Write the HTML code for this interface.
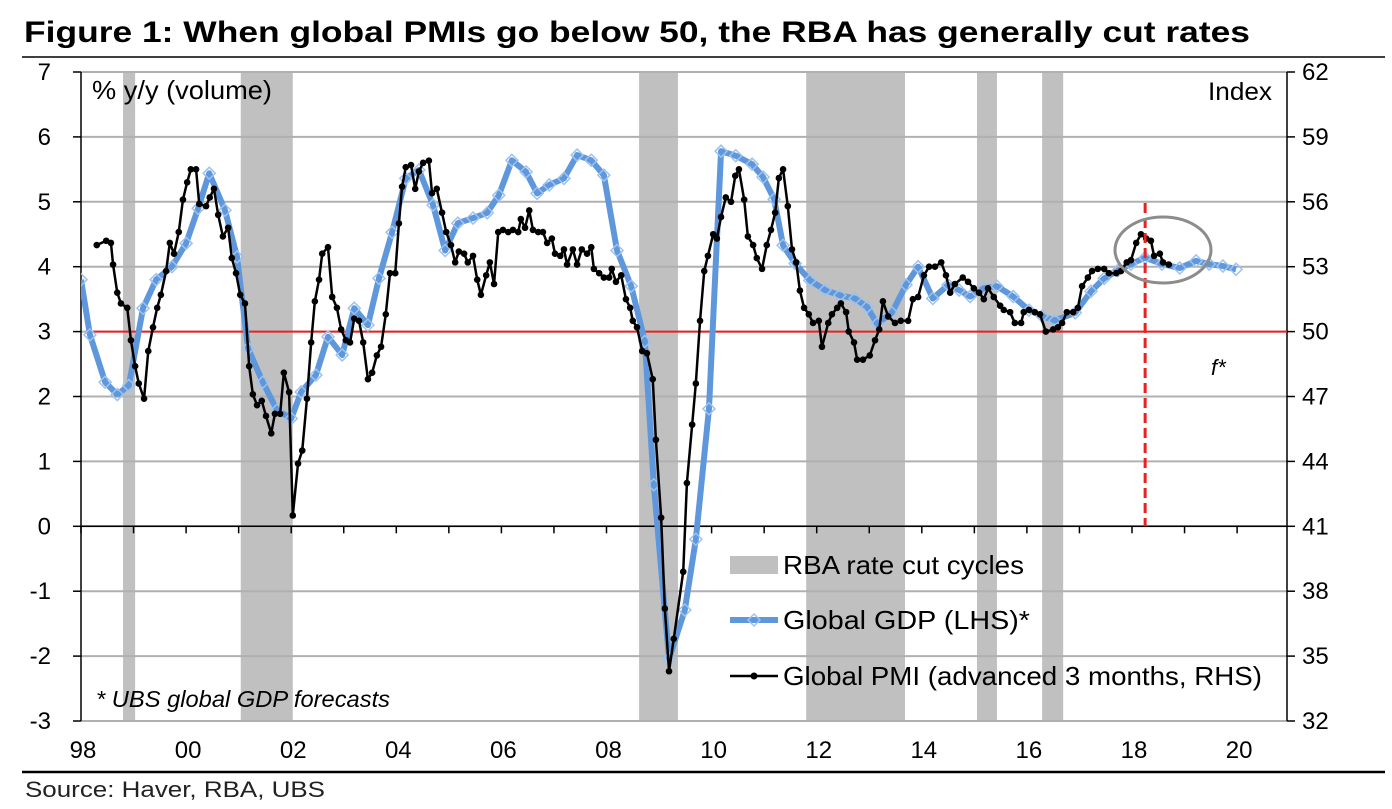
<!DOCTYPE html>
<html><head><meta charset="utf-8"><style>
html,body{margin:0;padding:0;background:#fff;}
svg{display:block;font-family:"Liberation Sans",Arial,sans-serif;}
</style></head><body>
<svg id="chart" width="1392" height="809" viewBox="0 0 1392 809">
<text x="24" y="42" font-size="30" font-weight="bold" textLength="1226" lengthAdjust="spacingAndGlyphs">Figure 1: When global PMIs go below 50, the RBA has generally cut rates</text>
<line x1="22" y1="57" x2="1385" y2="57" stroke="#000" stroke-width="1.5"/>
<g id="bands"></g>
<g id="grid"></g>
<g id="axes"></g>
<defs><clipPath id="plotclip"><rect x="81" y="60" width="1206" height="680"/></clipPath></defs>
<g id="series" clip-path="url(#plotclip)"></g>
<text x="92" y="99" font-size="26" textLength="180" lengthAdjust="spacingAndGlyphs">% y/y (volume)</text>
<text x="1208" y="100" font-size="25" textLength="64" lengthAdjust="spacingAndGlyphs">Index</text>
<text x="1211" y="375" font-size="22" font-style="italic">f*</text>
<text x="96" y="707" font-size="23" font-style="italic" textLength="294" lengthAdjust="spacingAndGlyphs">* UBS global GDP forecasts</text>
<ellipse cx="1163" cy="250" rx="48" ry="33" fill="none" stroke="#8c8c8c" stroke-width="3"/>
<g>
  <rect x="730" y="556" width="48" height="18" fill="#c0c0c0"/>
  <text x="783" y="574" font-size="26" textLength="241" lengthAdjust="spacingAndGlyphs">RBA rate cut cycles</text>
  <line x1="730" y1="620" x2="778" y2="620" stroke="#5f97dc" stroke-width="6"/>
  <path d="M754 614 L760 620 L754 626 L748 620 Z" fill="none" stroke="#9cc2ee" stroke-width="1.5"/>
  <text x="783" y="629" font-size="26" textLength="247" lengthAdjust="spacingAndGlyphs">Global GDP (LHS)*</text>
  <line x1="730" y1="676" x2="778" y2="676" stroke="#000" stroke-width="2.5"/>
  <circle cx="754" cy="676" r="3.5" fill="#000"/>
  <text x="783" y="685" font-size="26" textLength="479" lengthAdjust="spacingAndGlyphs">Global PMI (advanced 3 months, RHS)</text>
</g>
<line x1="22" y1="772" x2="1385" y2="772" stroke="#000" stroke-width="2.5"/>
<text x="25" y="797" font-size="22" fill="#222" textLength="300" lengthAdjust="spacingAndGlyphs">Source:  Haver, RBA, UBS</text>
</svg>
<script>
// x data: years since Jan 1998
const xTickLabels = ["98","00","02","04","06","08","10","12","14","16","18","20"];
const lhsTicks = [7,6,5,4,3,2,1,0,-1,-2,-3];
const rhsTicks = [62,59,56,53,50,47,44,41,38,35,32];
const bandStart = [0.80,3.04,10.62,13.80,17.05,18.29];
const bandEnd   = [1.03,4.03,11.36,15.68,17.43,18.69];
const gdpYears = [0.0,0.17,0.46,0.69,0.91,1.18,1.43,1.73,2.0,2.23,2.44,2.74,2.97,3.18,3.46,3.73,4.0,4.19,4.47,4.7,4.97,5.2,5.46,5.67,5.92,6.18,6.43,6.7,6.93,7.17,7.46,7.73,7.95,8.2,8.47,8.68,8.91,9.19,9.44,9.71,9.95,10.2,10.47,10.73,10.9,11.19,11.49,11.7,11.95,12.18,12.46,12.77,12.98,13.19,13.36,13.59,13.87,14.16,14.44,14.73,14.96,15.15,15.43,15.7,15.93,16.21,16.5,16.71,16.92,17.18,17.43,17.74,18.04,18.29,18.53,18.92,19.22,19.47,19.73,19.98,20.25,20.57,20.91,21.22,21.47,21.73,21.98];
const gdpValues = [3.8,2.95,2.22,2.03,2.17,3.36,3.8,4.0,4.36,4.9,5.44,4.87,4.15,2.74,2.22,1.79,1.66,2.07,2.33,2.92,2.64,3.36,3.1,3.82,4.53,5.36,5.49,4.95,4.25,4.67,4.75,4.83,5.1,5.64,5.46,5.13,5.26,5.36,5.72,5.64,5.41,4.25,3.7,2.85,0.64,-2.04,-1.29,-0.2,1.81,5.78,5.71,5.58,5.38,5.04,4.33,4.05,3.79,3.64,3.56,3.51,3.38,3.12,3.29,3.72,4.0,3.51,3.72,3.64,3.54,3.67,3.7,3.54,3.33,3.24,3.17,3.29,3.62,3.82,3.94,4.04,4.14,4.04,3.98,4.09,4.04,4.01,3.96];
const pmiYears = [0.30,0.48,0.57,0.61,0.69,0.76,0.88,0.95,1.03,1.10,
1.20,1.28,1.37,1.45,1.52,1.62,1.69,1.77,1.86,1.94,
2.02,2.09,2.19,2.25,2.38,2.45,2.53,2.61,2.70,2.80,
2.87,2.95,3.03,3.12,3.20,3.27,3.35,3.44,3.52,3.62,
3.69,3.79,3.86,3.96,4.03,4.13,4.21,4.30,4.38,4.45,
4.53,4.59,4.70,4.78,4.87,4.95,5.04,5.12,5.20,5.29,
5.37,5.46,5.54,5.63,5.71,5.80,5.88,5.98,6.05,6.11,
6.18,6.28,6.36,6.43,6.51,6.62,6.68,6.77,6.87,6.95,
7.04,7.12,7.19,7.29,7.36,7.46,7.54,7.61,7.71,7.78,
7.86,7.94,8.03,8.13,8.22,8.32,8.37,8.45,8.53,8.60,
8.70,8.79,8.87,8.96,9.02,9.12,9.19,9.25,9.36,9.44,
9.53,9.63,9.71,9.76,9.86,9.95,10.05,10.10,10.18,10.28,
10.37,10.45,10.50,10.58,10.68,10.77,10.88,10.94,11.04,11.11,
11.19,11.28,11.46,11.53,11.63,11.70,11.78,11.86,11.93,12.03,
12.10,12.18,12.27,12.37,12.45,12.52,12.62,12.69,12.79,12.86,
12.96,13.05,13.13,13.21,13.28,13.36,13.45,13.53,13.61,13.68,
13.76,13.85,13.93,14.04,14.10,14.22,14.29,14.39,14.46,14.56,
14.61,14.71,14.77,14.88,15.01,15.11,15.19,15.26,15.36,15.49,
15.60,15.74,15.83,15.93,16.04,16.14,16.25,16.37,16.46,16.54,
16.63,16.78,16.88,16.99,17.09,17.18,17.26,17.37,17.49,17.56,
17.68,17.77,17.89,17.94,18.04,18.15,18.25,18.36,18.50,18.59,
18.67,18.76,18.88,18.97,19.05,19.16,19.24,19.35,19.47,19.56,
19.70,19.79,19.90,19.98,20.08,20.17,20.27,20.36,20.42,20.53,
20.59,20.70];
const pmiValues = [54.0,54.2,54.1,53.1,51.8,51.3,51.1,49.6,48.4,47.6,
46.9,49.1,50.2,51.1,51.7,52.8,54.1,53.6,54.6,56.1,
56.9,57.5,57.5,55.9,55.8,56.2,56.6,55.4,54.4,54.8,
53.4,52.7,51.7,51.3,48.4,47.1,46.6,46.8,46.1,45.3,
46.2,46.2,48.1,47.2,41.5,43.9,44.5,46.9,49.5,51.4,
52.4,53.6,53.9,51.6,51.1,50.1,49.6,49.5,50.6,50.5,
49.5,47.8,48.1,48.9,49.3,50.8,52.7,52.7,55.0,56.7,
57.6,57.7,56.6,57.4,57.8,57.9,56.4,56.6,55.5,54.6,
54.0,53.2,53.7,53.6,53.2,53.5,52.4,51.7,52.6,53.2,
52.2,54.6,54.7,54.6,54.7,54.6,55.2,54.8,55.6,54.7,
54.6,54.6,54.1,54.3,53.6,53.5,53.8,53.1,53.8,53.1,
53.8,53.6,53.9,52.9,52.7,52.5,52.5,52.9,52.3,52.6,
51.5,51.1,50.5,50.2,49.1,49.0,47.8,45.0,41.4,37.2,
34.3,35.8,38.9,43.0,45.7,47.6,50.5,52.8,53.5,54.5,
54.3,55.3,56.2,56.0,57.2,57.5,56.1,54.4,54.0,53.4,
52.9,54.0,54.7,55.5,57.1,57.5,55.8,53.8,53.2,51.9,
51.1,50.8,50.4,50.5,49.3,50.4,50.8,51.1,51.3,50.9,
50.0,49.5,48.7,48.7,48.9,49.6,50.1,51.4,50.7,50.4,
50.5,50.5,51.5,51.6,52.6,53.0,53.0,53.2,52.6,51.8,
52.2,52.5,52.3,52.0,51.8,51.5,52.0,51.6,51.2,51.0,
50.9,50.4,50.4,50.9,51.0,50.9,50.8,50.0,50.1,50.2,
50.4,50.9,50.9,51.1,52.1,52.5,52.8,52.9,52.9,52.7,
52.7,52.8,53.2,53.3,54.1,54.5,54.3,54.2,53.5,53.6,
53.2,53.1];
const thresholdLhs = 3;
const forecastStart = 20.25;

const NS = "http://www.w3.org/2000/svg";
const X0 = 81, XPY = 52.55, XR = 1287;
const YT = 72, YB = 721;
const xs = t => X0 + t * XPY;
const yL = v => YT + (7 - v) * (YB - YT) / 10;
const yR = v => YT + (62 - v) * (YB - YT) / 30;
function mk(tag, attrs, parent) {
  const e = document.createElementNS(NS, tag);
  for (const k in attrs) e.setAttribute(k, attrs[k]);
  parent.appendChild(e);
  return e;
}
const bands = document.getElementById("bands");
const grid = document.getElementById("grid");
const axes = document.getElementById("axes");
const series = document.getElementById("series");

bandStart.forEach((s, i) => {
  const r = mk("rect", {x: xs(s), y: YT, width: xs(bandEnd[i]) - xs(s), height: YB - YT, fill: "#c0c0c0"}, bands);
  
  
});
lhsTicks.forEach(v => {
  const y = yL(v);
  const g = mk("line", {x1: X0, x2: XR, y1: y, y2: y, stroke: "#b0b0b0", "stroke-width": 2}, grid);
  
  
  const tk = mk("line", {x1: X0 - 8, x2: X0, y1: y, y2: y, stroke: "#000", "stroke-width": 1.5}, axes);
  
  
  const t = mk("text", {x: 51, y: y + 8, "font-size": 24, "text-anchor": "end"}, axes);
  t.textContent = v;
  
  
});
rhsTicks.forEach(v => {
  const y = yR(v);
  const tk = mk("line", {x1: XR, x2: XR + 8, y1: y, y2: y, stroke: "#000", "stroke-width": 1.5}, axes);
  
  
  const t = mk("text", {x: 1302, y: y + 8, "font-size": 24}, axes);
  t.textContent = v;
  
  
});
const la = mk("line", {x1: X0, x2: X0, y1: YT, y2: YB, stroke: "#000", "stroke-width": 1.5}, axes);


const ra = mk("line", {x1: XR, x2: XR, y1: YT, y2: YB, stroke: "#000", "stroke-width": 1.5}, axes);


const xa = mk("line", {x1: X0, x2: XR, y1: yL(0), y2: yL(0), stroke: "#000", "stroke-width": 1.5}, axes);


for (let yr = 0; yr <= 22; yr++) {
  const tk = mk("line", {x1: xs(yr), x2: xs(yr), y1: yL(0), y2: yL(0) + 7, stroke: "#000", "stroke-width": 1.5}, axes);
  
  
}
xTickLabels.forEach((lab, i) => {
  const t = mk("text", {x: xs(i * 2) + 2, y: 758, "font-size": 24, "text-anchor": "middle"}, axes);
  t.textContent = lab;
  
  
});
const th = mk("line", {x1: 92, x2: XR, y1: yL(thresholdLhs), y2: yL(thresholdLhs), stroke: "#e8231f", "stroke-width": 2}, series);



const gp = gdpYears.map((t, i) => xs(t) + "," + yL(gdpValues[i])).join(" ");
const gl = mk("polyline", {points: gp, fill: "none", stroke: "#5f97dc", "stroke-width": 6, "stroke-linejoin": "round"}, series);


gdpYears.forEach((t, i) => {
  const cx = xs(t), cy = yL(gdpValues[i]);
  const d = mk("path", {d: `M${cx} ${cy-6} L${cx+6} ${cy} L${cx} ${cy+6} L${cx-6} ${cy} Z`, fill: "none", stroke: "#9cc2ee", "stroke-width": 1.5}, series);
  
  
});
const pp = pmiYears.map((t, i) => xs(t) + "," + yR(pmiValues[i])).join(" ");
const pl = mk("polyline", {points: pp, fill: "none", stroke: "#000", "stroke-width": 2.5, "stroke-linejoin": "round"}, series);


pmiYears.forEach((t, i) => {
  const c = mk("circle", {cx: xs(t), cy: yR(pmiValues[i]), r: 3.3, fill: "#000"}, series);
  
  
});
const fl = mk("line", {x1: xs(forecastStart), x2: xs(forecastStart), y1: 203, y2: yL(0), stroke: "#e8231f", "stroke-width": 3, "stroke-dasharray": "10,5"}, series);


</script>
</body></html>
